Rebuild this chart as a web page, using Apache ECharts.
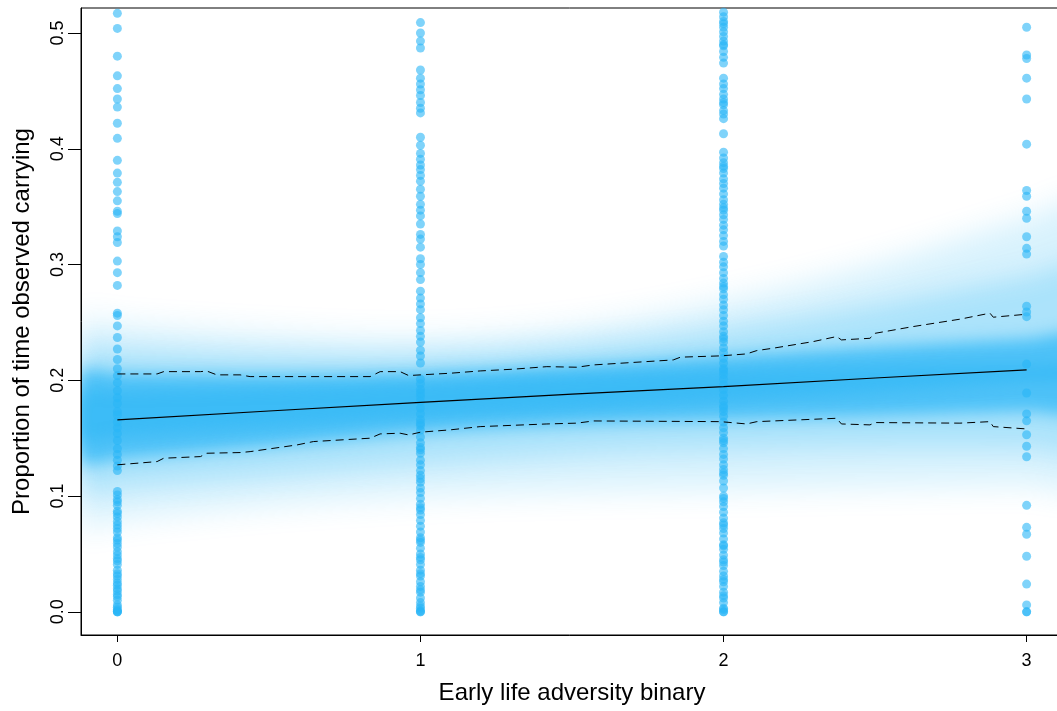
<!DOCTYPE html>
<html><head><meta charset="utf-8">
<script src="https://cdn.jsdelivr.net/npm/echarts@6.0.0/dist/echarts.min.js"></script>
<style>html,body{margin:0;padding:0;background:#fff}#c{width:1057px;height:711px}</style>
</head><body><div id="c"></div>
<script>
// ---- tick labels ----
const xTicks = [0, 1, 2, 3];
const yTicks = [0, 0.1, 0.2, 0.3, 0.4, 0.5];

// ---- raw observations (x = group, y = proportion) ----
const groupX = [0, 1, 2, 3];
const col0 = [0.517, 0.504, 0.480, 0.463, 0.452, 0.443, 0.436, 0.422, 0.409, 0.390, 0.379, 0.371, 0.363, 0.355, 0.346, 0.344, 0.329, 0.324, 0.319, 0.303, 0.293, 0.282, 0.258, 0.256, 0.247, 0.237, 0.227, 0.218, 0.210, 0.204, 0.198, 0.191, 0.185, 0.180, 0.173, 0.170, 0.164, 0.159, 0.154, 0.148, 0.141, 0.136, 0.131, 0.126, 0.122, 0.104, 0.101, 0.097, 0.092, 0.087, 0.082, 0.075, 0.069, 0.064, 0.059, 0.052, 0.046, 0.041, 0.036, 0.031, 0.025, 0.020, 0.015, 0.010, 0.004, 0.001, 0.000, 0.000, 0.000, 0.002, 0.006, 0.013, 0.018, 0.023, 0.028, 0.033, 0.044, 0.049, 0.056, 0.062, 0.072, 0.078, 0.085, 0.095];
const col1 = [0.509, 0.500, 0.493, 0.487, 0.468, 0.461, 0.456, 0.451, 0.446, 0.440, 0.435, 0.431, 0.410, 0.403, 0.396, 0.391, 0.386, 0.382, 0.377, 0.372, 0.365, 0.359, 0.352, 0.347, 0.342, 0.335, 0.326, 0.322, 0.315, 0.305, 0.300, 0.293, 0.287, 0.277, 0.271, 0.266, 0.261, 0.254, 0.249, 0.243, 0.238, 0.233, 0.226, 0.221, 0.215, 0.201, 0.197, 0.192, 0.186, 0.182, 0.176, 0.171, 0.166, 0.161, 0.157, 0.151, 0.146, 0.142, 0.137, 0.131, 0.127, 0.122, 0.118, 0.112, 0.107, 0.103, 0.098, 0.093, 0.088, 0.084, 0.079, 0.074, 0.069, 0.064, 0.060, 0.055, 0.050, 0.045, 0.041, 0.036, 0.031, 0.026, 0.022, 0.017, 0.012, 0.008, 0.003, 0.000, 0.000, 0.001, 0.005, 0.019, 0.033, 0.047, 0.062, 0.090, 0.115, 0.140, 0.163, 0.189];
const col2 = [0.518, 0.514, 0.510, 0.505, 0.501, 0.497, 0.493, 0.489, 0.484, 0.479, 0.474, 0.461, 0.456, 0.452, 0.447, 0.443, 0.438, 0.433, 0.430, 0.426, 0.413, 0.397, 0.392, 0.388, 0.383, 0.379, 0.374, 0.370, 0.366, 0.361, 0.356, 0.352, 0.347, 0.343, 0.339, 0.334, 0.330, 0.325, 0.320, 0.316, 0.307, 0.302, 0.298, 0.293, 0.288, 0.284, 0.279, 0.274, 0.270, 0.265, 0.261, 0.256, 0.251, 0.247, 0.242, 0.238, 0.233, 0.228, 0.224, 0.219, 0.215, 0.210, 0.205, 0.201, 0.196, 0.192, 0.187, 0.182, 0.178, 0.173, 0.169, 0.164, 0.159, 0.155, 0.150, 0.146, 0.141, 0.136, 0.132, 0.127, 0.123, 0.118, 0.113, 0.107, 0.100, 0.095, 0.091, 0.086, 0.081, 0.077, 0.072, 0.068, 0.063, 0.058, 0.054, 0.049, 0.045, 0.040, 0.035, 0.031, 0.026, 0.022, 0.017, 0.012, 0.008, 0.003, 0.000, 0.000, 0.002, 0.014, 0.028, 0.043, 0.057, 0.075, 0.098, 0.120, 0.148, 0.176, 0.208, 0.236, 0.281, 0.349, 0.385, 0.440, 0.490, 0.508];
const col3 = [0.505, 0.481, 0.478, 0.461, 0.443, 0.404, 0.364, 0.359, 0.346, 0.340, 0.324, 0.314, 0.309, 0.264, 0.259, 0.255, 0.214, 0.189, 0.171, 0.165, 0.153, 0.143, 0.134, 0.092, 0.073, 0.067, 0.048, 0.024, 0.006, 0.000, 0.000];

// ---- posterior shading bands (lower/upper edge at bandX) ----
const bandX   = [-0.12, 0, 0.5, 1, 1.5, 2, 2.5, 3, 3.2];
const haloLo  = [0.075, 0.080, 0.092, 0.100, 0.104, 0.106, 0.108, 0.110, 0.110];
const haloHi  = [0.250, 0.248, 0.240, 0.236, 0.245, 0.268, 0.300, 0.340, 0.352];
const midLo   = [0.105, 0.108, 0.118, 0.128, 0.136, 0.140, 0.142, 0.142, 0.142];
const midHi   = [0.228, 0.226, 0.222, 0.222, 0.230, 0.244, 0.265, 0.290, 0.298];
const coreLo  = [0.130, 0.132, 0.143, 0.155, 0.162, 0.166, 0.169, 0.173, 0.174];
const coreHi  = [0.207, 0.206, 0.205, 0.207, 0.213, 0.221, 0.229, 0.236, 0.238];
const innerLo = [0.150, 0.152, 0.160, 0.168, 0.175, 0.182, 0.190, 0.199, 0.201];
const innerHi = [0.188, 0.190, 0.193, 0.198, 0.204, 0.209, 0.212, 0.213, 0.212];

// ---- fitted mean line ----
const fitX = [0, 0.5, 1, 1.5, 2, 2.5, 3];
const fitY = [0.1658, 0.1735, 0.1810, 0.1880, 0.1946, 0.2020, 0.2090];

// ---- dashed interval lines ----
const upperX = [0, 0.131, 0.153, 0.274, 0.295, 0.328, 0.405, 0.438, 0.834, 0.867, 0.933, 0.961, 1.0, 1.098, 1.197, 1.306, 1.417, 1.516, 1.571, 1.834, 1.858, 1.99, 2.076, 2.11, 2.163, 2.295, 2.373, 2.389, 2.483, 2.5, 2.625, 2.78, 2.879, 2.89, 3.0];
const upperY = [0.2055, 0.2055, 0.2075, 0.2075, 0.2080, 0.2047, 0.2047, 0.2032, 0.2032, 0.2075, 0.2075, 0.2041, 0.2047, 0.2061, 0.2081, 0.2096, 0.2118, 0.2113, 0.2133, 0.2176, 0.2200, 0.2211, 0.2228, 0.2257, 0.2277, 0.2334, 0.2378, 0.2349, 0.2363, 0.2406, 0.2464, 0.2528, 0.2580, 0.2545, 0.2571];
const lowerX = [0, 0.131, 0.153, 0.274, 0.295, 0.405, 0.438, 0.593, 0.647, 0.834, 0.867, 0.933, 0.961, 1.0, 1.098, 1.197, 1.417, 1.516, 1.571, 1.99, 2.076, 2.11, 2.373, 2.389, 2.483, 2.5, 2.78, 2.879, 2.89, 3.0];
const lowerY = [0.1270, 0.1298, 0.1327, 0.1341, 0.1370, 0.1376, 0.1384, 0.1442, 0.1471, 0.1500, 0.1537, 0.1543, 0.1528, 0.1552, 0.1572, 0.1600, 0.1623, 0.1630, 0.1649, 0.1643, 0.1623, 0.1643, 0.1672, 0.1623, 0.1615, 0.1635, 0.1630, 0.1643, 0.1600, 0.1580];

const BLUE = 'rgb(41,182,246)';
const FONT = 'Liberation Sans, Arial, Helvetica, sans-serif';
const SHIFT = 4000; // the polygon is drawn off-canvas; only its blurred shadow lands in the plot

const cols = [col0, col1, col2, col3];
const scatterData = [];
cols.forEach((c, i) => c.forEach(v => scatterData.push([groupX[i], v])));

function bandSeries(lo, hi, opacity, blur) {
  return {
    type: 'custom', coordinateSystem: 'cartesian2d', clip: true, silent: true, z: 1,
    data: bandX.map((x, i) => [x, lo[i], hi[i]]),
    encode: { x: 0, y: [1, 2] },
    renderItem: function (params, api) {
      if (params.dataIndexInside !== 0) return null;
      const n = params.dataInsideLength;
      const top = [], bot = [];
      for (let i = 0; i < n; i++) {
        const x = api.value(0, i);
        bot.push(api.coord([x, api.value(1, i)]));
        top.push(api.coord([x, api.value(2, i)]));
      }
      const cs = params.coordSys;
      return {
        type: 'group',
        clipPath: { type: 'rect', shape: { x: cs.x, y: cs.y, width: cs.width, height: cs.height } },
        children: [{
          type: 'polygon', x: -SHIFT,
          shape: { points: bot.concat(top.reverse()), smooth: 0.35 },
          style: { fill: BLUE, opacity: opacity, shadowBlur: blur, shadowColor: BLUE, shadowOffsetX: SHIFT }
        }]
      };
    }
  };
}

const chart = echarts.init(document.getElementById('c'), null, { renderer: 'canvas' });
chart.setOption({
  animation: false,
  backgroundColor: '#fff',
  grid: { left: 81, top: 8, right: -6, bottom: 76, show: true, borderColor: '#000', borderWidth: 1,
          backgroundColor: 'transparent', outerBoundsMode: 'none', containLabel: false },
  xAxis: {
    type: 'value', min: -0.12, max: 3.12, z: 10,
    name: 'Early life adversity binary', nameLocation: 'middle', nameGap: 46,
    nameTextStyle: { fontFamily: FONT, fontSize: 24, color: '#000' },
    axisLine: { show: true, onZero: false, lineStyle: { color: '#000', width: 1 } },
    axisTick: { show: true, length: 7, lineStyle: { color: '#000' }, customValues: xTicks },
    axisLabel: { fontFamily: FONT, fontSize: 18, color: '#000', margin: 17, customValues: xTicks,
                 formatter: v => String(v) },
    splitLine: { show: false }
  },
  yAxis: {
    type: 'value', min: -0.02, max: 0.5216, z: 10,
    name: 'Proportion of time observed carrying', nameLocation: 'middle', nameGap: 47,
    nameTextStyle: { fontFamily: FONT, fontSize: 24, color: '#000' },
    axisLine: { show: true, onZero: false, lineStyle: { color: '#000', width: 1 } },
    axisTick: { show: true, length: 13, lineStyle: { color: '#000' }, customValues: yTicks },
    axisLabel: { fontFamily: FONT, fontSize: 18, color: '#000', margin: 14, rotate: 90, customValues: yTicks,
                 formatter: v => v.toFixed(1) },
    splitLine: { show: false }
  },
  series: [
    bandSeries(haloLo, haloHi, 0.18, 30),
    bandSeries(midLo, midHi, 0.25, 24),
    bandSeries(coreLo, coreHi, 0.72, 16),
    bandSeries(innerLo, innerHi, 0.5, 14),
    { type: 'scatter', data: scatterData, symbol: 'circle', symbolSize: 9, z: 3,
      itemStyle: { color: BLUE, opacity: 0.6 } },
    { type: 'line', data: upperX.map((x, i) => [x, upperY[i]]), symbol: 'none', z: 5,
      lineStyle: { color: '#000', width: 1, type: [8, 5] } },
    { type: 'line', data: lowerX.map((x, i) => [x, lowerY[i]]), symbol: 'none', z: 5,
      lineStyle: { color: '#000', width: 1, type: [8, 5] } },
    { type: 'line', data: fitX.map((x, i) => [x, fitY[i]]), symbol: 'none', z: 6,
      lineStyle: { color: '#000', width: 1.2 } }
  ]
});
</script>
</body></html>
